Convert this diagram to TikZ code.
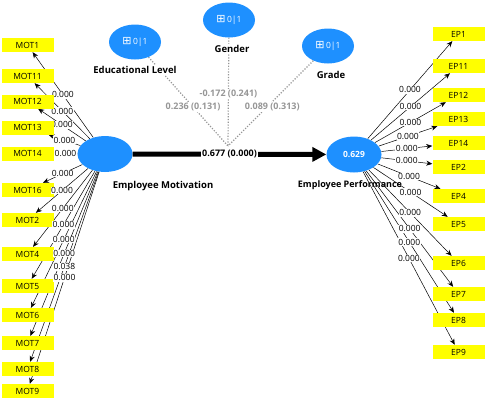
\documentclass[tikz,border=0pt]{standalone}
\usepackage{fontspec}
\setmainfont{Open Sans}
\newfontfamily\symfont{DejaVu Sans}
\usepackage{tikz}
\usetikzlibrary{arrows.meta}
\usetikzlibrary{shapes.geometric}
\definecolor{plsblue}{RGB}{30,144,255}
\definecolor{plsyellow}{RGB}{255,255,0}
\definecolor{modgray}{RGB}{150,150,150}
\tikzstyle{indicator}=[rectangle, fill=plsyellow, minimum width=52pt, minimum height=14pt, inner sep=0pt, font=\fontsize{8.5}{9}\selectfont]
\tikzstyle{construct}=[ellipse, fill=plsblue, minimum width=55pt, minimum height=36pt, inner sep=0pt, text=white, font=\fontsize{8.5}{9}\selectfont\bfseries]
\tikzstyle{moderator}=[construct, minimum width=52pt, minimum height=35pt, font=\fontsize{8.5}{9}\selectfont]
\tikzstyle{caption}=[font=\fontsize{9.5}{10}\selectfont\bfseries]
\tikzstyle{loading}=[-{Stealth[length=6pt,width=5pt]}, line width=.5pt]
\tikzstyle{value}=[fill=white, inner sep=.6pt, font=\fontsize{8.5}{9}\selectfont]
\pgfdeclarelayer{bg}
\pgfsetlayers{bg,main}
\newcommand{\binicon}{{\symfont\fontsize{11}{11}\selectfont ⊞}\,0|1}

\begin{document}
\begin{tikzpicture}[x=1pt, y=-1pt,
                    modpath/.style={draw=modgray, line width=1.2pt, dash pattern=on 1.2pt off 1.6pt},
                    modvalue/.style={fill=white, text=modgray, inner sep=1pt, font=\fontsize{9}{9}\selectfont\bfseries},
                    modcaption/.style={caption, fill=white, inner sep=1pt}]
  \useasboundingbox (0,0) rectangle (486,400);
  % latent variables
  \node[construct] (em) at (105,154) {};
  \node[construct] (ep) at (354,154.5) {0.629};
  \node[caption] (emlabel) at (163,186) {Employee Motivation};
  \node[caption, font=\fontsize{9}{10}\selectfont\bfseries] (eplabel) at (350,185) {Employee Performance};
  \draw[line width=5pt, -{Triangle[length=14pt,width=14pt]}] (em) -- node[fill=white, inner sep=1pt, font=\fontsize{9}{9}\selectfont\bfseries] (mainvalue) {0.677 (0.000)} (ep);
  % moderators
  \node[moderator] (edu) at (135,42) {\binicon};
  \node[moderator] (gender) at (229,20) {\binicon};
  \node[moderator] (grade) at (328,46) {\binicon};
  \node[modcaption] (edulabel) at (135,70) {Educational Level};
  \node[modcaption] (genderlabel) at (232,49) {Gender};
  \node[modcaption] (gradelabel) at (331,75) {Grade};
  \coordinate (joint) at (228,146);
  \begin{pgfonlayer}{bg}
    \draw[modpath] (edu) -- (joint);
    \draw[modpath] (gender) -- (joint);
    \draw[modpath] (grade) -- (joint);
  \end{pgfonlayer}
  \path (edu) -- node[modvalue, pos=.56] {0.236 (0.131)} (joint);
  \path (gender) -- node[modvalue, pos=.52] {-0.172 (0.241)} (joint);
  \path (grade) -- node[modvalue, pos=.54, xshift=5pt] {0.089 (0.313)} (joint);
  % indicators
  \foreach \name/\y/\val in {MOT1/45/0.000, MOT11/76/0.000, MOT12/101.5/0.000, MOT13/127.5/0.000,
                            MOT14/153.5/0.000, MOT16/190/0.000, MOT2/220/0.000, MOT4/254/0.000,
                            MOT5/286/0.000, MOT6/315/0.000, MOT7/343/0.000, MOT8/369/0.038, MOT9/391/0.000}{
    \node[indicator] (\name) at (27.5,\y) {\name};
    \begin{pgfonlayer}{bg}
      \draw[loading] (em) -- (\name);
    \end{pgfonlayer}
    \path (em) -- node[value] {\val} (\name);
  }
  \foreach \name/\y in {EP1/34, EP11/66, EP12/95, EP13/119, EP14/143, EP2/167,
                        EP4/196, EP5/224, EP6/263, EP7/294, EP8/320, EP9/352}{
    \node[indicator] (\name) at (458.5,\y) {\name};
    \begin{pgfonlayer}{bg}
      \draw[loading] (ep) -- (\name);
    \end{pgfonlayer}
    \path (ep) -- node[value] {0.000} (\name);
  }
\end{tikzpicture}
\end{document}
